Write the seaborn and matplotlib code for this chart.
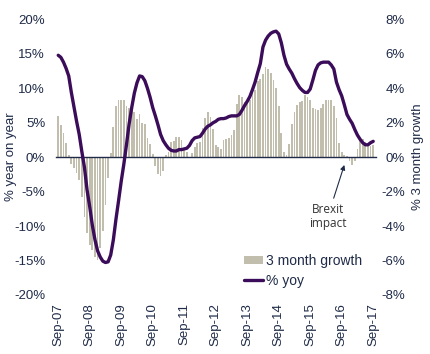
import numpy as np
import pandas as pd
import seaborn as sns
import matplotlib
matplotlib.use("Agg")
import matplotlib.pyplot as plt
from matplotlib.ticker import FuncFormatter
from matplotlib.transforms import blended_transform_factory
from matplotlib.patches import Patch
from matplotlib.lines import Line2D

# monthly, Sep-07 .. Sep-17
months = pd.date_range("2007-09-01", "2017-09-01", freq="MS")
tick_labels = ["Sep-07", "Sep-08", "Sep-09", "Sep-10", "Sep-11", "Sep-12",
               "Sep-13", "Sep-14", "Sep-15", "Sep-16", "Sep-17"]

# % 3 month growth (right axis)
growth_3m = [
    2.4, 1.85, 1.4, 0.8, 0.15, -0.4, -0.6, -0.9, -1.35, -2.3, -3.5, -4.4,
    -5.1, -5.4, -5.8, -6.0, -5.3, -4.3, -2.8, -1.2, 0.25, 1.75, 3.0, 3.3,
    3.33, 3.33, 2.95, 2.87, 2.7, 2.65, 2.2, 2.5, 2.0, 1.9, 1.1, 0.75,
    0.2, -0.5, -1.0, -1.1, -0.8, 0.1, 0.3, 0.87, 0.93, 1.2, 1.16, 1.0,
    0.5, 0.3, -0.05, 0.23, 0.58, 0.81, 0.87, 1.7, 2.25, 2.65, 2.36, 1.65,
    0.68, 0.58, 0.45, 1.0, 1.07, 1.12, 1.3, 1.6, 3.1, 3.6, 3.5, 3.2,
    3.2, 3.3, 3.8, 3.9, 4.45, 4.55, 4.85, 5.25, 5.13, 4.9, 4.5, 4.0,
    3.0, 1.4, 0.3, 0.1, 0.74, 1.94, 2.6, 3.06, 3.2, 3.26, 3.6, 3.5,
    3.3, 2.87, 2.8, 2.75, 2.87, 3.1, 3.3, 3.35, 3.33, 2.95, 2.25, 0.8,
    0.3, 0.15, 0.05, -0.25, -0.45, -0.2, 0.45, 1.0, 1.05, 0.9, 0.75, 0.65,
    0.7,
]

# % yoy (left axis)
yoy = [
    14.8, 14.5, 13.8, 12.9, 11.8, 9.4, 7.3, 5.2, 3.3, 0.8, -1.5, -4.8,
    -7.2, -9.9, -12.0, -13.6, -14.5, -15.1, -15.3, -15.2, -14.2, -12.0, -9.0, -6.3,
    -3.5, -1.0, 1.8, 4.8, 7.2, 9.3, 10.8, 11.8, 11.7, 11.1, 10.0, 8.7,
    7.2, 6.0, 4.7, 3.3, 2.4, 1.8, 1.3, 1.0, 0.9, 0.9, 1.1, 1.1,
    1.2, 1.3, 1.7, 2.4, 2.8, 2.9, 3.0, 3.5, 4.1, 4.5, 4.7, 5.0,
    5.2, 5.5, 5.6, 5.6, 5.7, 5.9, 6.0, 6.0, 6.0, 6.2, 6.8, 7.5,
    8.1, 8.8, 9.8, 10.9, 12.3, 13.6, 16.0, 17.0, 17.6, 18.0, 18.2, 18.3,
    17.9, 16.6, 14.8, 13.5, 12.8, 12.2, 11.4, 10.7, 10.1, 9.7, 9.4, 9.4,
    9.9, 11.2, 12.6, 13.4, 13.7, 13.8, 13.8, 13.8, 13.4, 12.8, 10.9, 9.8,
    8.9, 7.6, 6.2, 5.5, 4.9, 4.0, 3.2, 2.6, 2.1, 1.8, 1.8, 2.1,
    2.3,
]

BAR = "#c2bead"
LINE = "#3b0c59"
TXT = "#1f2b48"

sns.set_style("white")
plt.rcParams["font.family"] = ["Liberation Sans", "DejaVu Sans"]

df = pd.DataFrame({"month": np.arange(len(months)), "growth": growth_3m, "yoy": yoy})

fig = plt.figure(figsize=(4.31, 3.54), dpi=100)
ax = fig.add_axes([0.129, 0.167, 0.743, 0.778])
ax2 = ax.twinx()

sns.barplot(data=df, x="month", y="growth", ax=ax, color=BAR, saturation=1,
            width=0.66, native_scale=True, linewidth=0)
sns.lineplot(data=df, x="month", y="yoy", ax=ax2, color=LINE, linewidth=2.4)

# bars on the right scale, line on the left scale
ax.yaxis.tick_right()
ax.yaxis.set_label_position("right")
ax2.yaxis.tick_left()
ax2.yaxis.set_label_position("left")

ax.set_xlim(-1, 121)
ax.set_ylim(-8, 8)
ax2.set_ylim(-20, 20)

pct = FuncFormatter(lambda v, p: f"{v:.0f}%")
ax.set_yticks(np.arange(-8, 9, 2))
ax.yaxis.set_major_formatter(pct)
ax2.set_yticks(np.arange(-20, 21, 5))
ax2.yaxis.set_major_formatter(pct)

ax.tick_params(axis="y", length=0, pad=21, labelsize=9.5, labelcolor=TXT)
plt.setp(ax.yaxis.get_majorticklabels(), ha="right")
ax2.tick_params(axis="y", length=0, pad=7.5, labelsize=9.5, labelcolor=TXT)

for s in ["top", "left", "right"]:
    ax.spines[s].set_visible(False)
for s in ax2.spines.values():
    s.set_visible(False)
ax.spines["bottom"].set_position(("data", 0))
ax.spines["bottom"].set_color(TXT)
ax.spines["bottom"].set_linewidth(1)

sept = np.arange(0, len(months), 12)
ax.set_xticks(sept)
ax.set_xticklabels([])
ax.tick_params(axis="x", length=3, width=1, color=TXT, direction="out")
trans = blended_transform_factory(ax.transData, ax.transAxes)
for m, lab in zip(sept, tick_labels):
    ax.text(m, -0.03, lab, transform=trans, rotation=90, ha="center", va="top",
            fontsize=9.5, color=TXT)

ax.set_xlabel("")
ax2.set_xlabel("")
ax.set_ylabel("% 3 month growth", fontsize=9.5, color=TXT)
ax2.set_ylabel("% year on year", fontsize=9.5, color=TXT)
ax.yaxis.set_label_coords(1.113, 0.5)
ax2.yaxis.set_label_coords(-0.122, 0.5)

ax.annotate("Brexit\nimpact", xy=(109, -0.45), xytext=(102.7, -2.65),
            ha="center", va="top", fontsize=8.5, family="Open Sans",
            color="#333333", linespacing=1.15,
            arrowprops=dict(arrowstyle="-|>", color=TXT, lw=0.8,
                            mutation_scale=7, shrinkA=1, shrinkB=0))

handles = [Patch(facecolor=BAR, edgecolor="none"),
           Line2D([], [], color=LINE, linewidth=2.4)]
ax2.legend(handles, ["3 month growth", "% yoy"], loc="upper left",
           bbox_to_anchor=(0.57, 0.17), frameon=False, fontsize=10,
           handlelength=1.4, handleheight=0.5, handletextpad=0.2,
           labelspacing=0.45, borderaxespad=0, labelcolor=TXT)

fig.savefig("out.png", dpi=100)
